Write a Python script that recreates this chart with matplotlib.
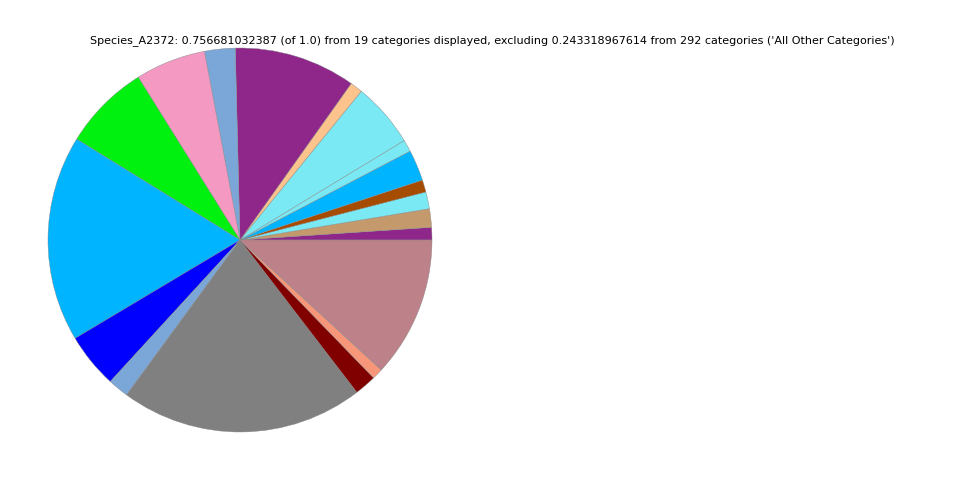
import matplotlib
matplotlib.use("Agg")
import matplotlib.pyplot as plt

title = ("Species_A2372: 0.756681032387 (of 1.0) from 19 categories displayed, "
         "excluding 0.243318967614 from 292 categories ('All Other Categories')")

values = [0.00799, 0.01177, 0.01072, 0.00778, 0.01976, 0.00757, 0.04120,
          0.00799, 0.07735, 0.01955, 0.04477, 0.05528, 0.13137, 0.03510,
          0.01324, 0.15491, 0.01387, 0.00694, 0.08954]
colors = ["#8F278A", "#C49A6C", "#7AE9F3", "#A64C00", "#00B4FF", "#7AE9F3",
          "#7AE9F3", "#FCC48C", "#8F278A", "#7BA7D8", "#F49AC2", "#00F010",
          "#00B4FF", "#0000FF", "#7BA7D8", "#808080", "#800000", "#F8967A",
          "#BC8189"]

fig = plt.figure(figsize=(9.6, 4.8), dpi=100)
ax = fig.add_axes([0.05, 0.1, 0.4, 0.8])
ax.pie(values, colors=colors, startangle=0, counterclock=True, normalize=True,
       wedgeprops={"linewidth": 0.3, "edgecolor": "#888888"})
ax.set_xlim(-1, 1)
ax.set_ylim(-1, 1)
ax.set_aspect("equal")
fig.suptitle(title, fontsize=8, x=0.513, y=0.927)

fig.savefig("out.png", dpi=100)
